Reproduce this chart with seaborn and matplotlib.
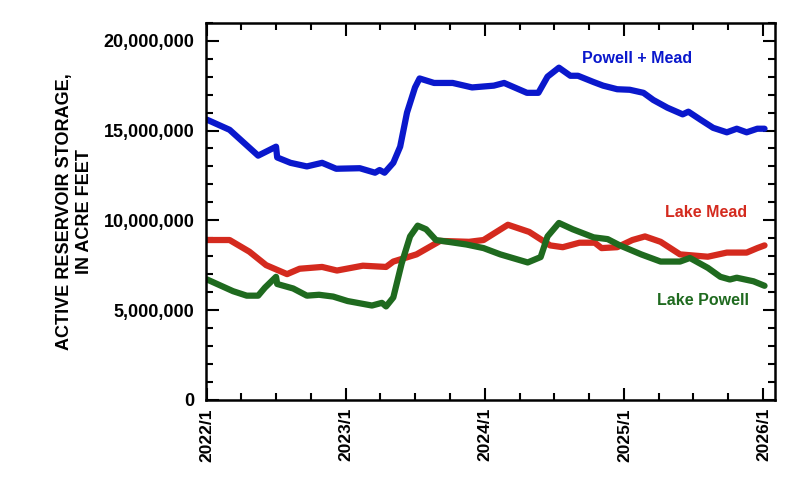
import matplotlib
matplotlib.use("Agg")
import matplotlib.pyplot as plt
import matplotlib.dates as mdates
import matplotlib.ticker as mticker
import numpy as np
import pandas as pd
import seaborn as sns

# ---- data (millions of acre-feet) ----
powell_dates = ["2022-01-01","2022-03-10","2022-04-15","2022-05-15","2022-06-02","2022-07-01","2022-07-04",
                "2022-08-15","2022-09-20","2022-10-22","2022-11-28","2023-01-05","2023-03-10","2023-04-05",
                "2023-04-16","2023-05-05","2023-05-27","2023-06-18","2023-07-08","2023-07-30","2023-08-25",
                "2023-11-13","2023-12-28","2024-02-10","2024-04-22","2024-05-26","2024-06-13","2024-07-13",
                "2024-08-18","2024-10-12","2024-11-18","2024-12-20","2025-02-14","2025-04-06","2025-05-27",
                "2025-06-22","2025-08-08","2025-09-10","2025-10-05","2025-10-23","2025-12-06","2026-01-04"]
powell_vals = [6.7,6.05,5.8,5.8,6.25,6.85,6.45,6.2,5.8,5.85,5.75,5.5,5.25,5.4,5.2,5.7,7.6,9.1,9.7,9.5,8.9,
               8.65,8.45,8.1,7.65,7.95,9.1,9.85,9.5,9.05,8.95,8.6,8.1,7.7,7.7,7.9,7.35,6.85,6.7,6.8,6.6,6.35]

mead_dates = ["2022-01-01","2022-03-01","2022-04-22","2022-06-05","2022-07-30","2022-09-01","2022-10-30",
              "2022-12-08","2023-02-14","2023-04-16","2023-05-05","2023-07-05","2023-09-05","2023-11-20",
              "2023-12-28","2024-03-01","2024-04-26","2024-06-20","2024-07-23","2024-09-05","2024-10-15",
              "2024-11-02","2024-12-13","2025-01-22","2025-02-24","2025-04-06","2025-05-27","2025-08-08",
              "2025-09-27","2025-11-18","2025-12-16","2026-01-04"]
mead_vals = [8.9,8.9,8.25,7.5,7.0,7.3,7.4,7.2,7.47,7.4,7.7,8.1,8.85,8.8,8.9,9.75,9.35,8.6,8.5,8.75,8.75,
             8.45,8.5,8.9,9.1,8.8,8.1,7.97,8.2,8.2,8.45,8.6]

total_dates = ["2022-01-01","2022-03-01","2022-05-15","2022-07-01","2022-07-04","2022-08-08","2022-09-20",
               "2022-10-30","2022-12-06","2023-02-06","2023-03-18","2023-03-30","2023-04-12","2023-05-05",
               "2023-05-23","2023-06-10","2023-07-01","2023-07-13","2023-08-20","2023-10-08","2023-11-28",
               "2024-01-24","2024-02-20","2024-04-20","2024-05-20","2024-06-13","2024-07-13","2024-08-12",
               "2024-09-01","2024-10-12","2024-11-06","2024-12-13","2025-01-15","2025-02-20","2025-03-18",
               "2025-04-24","2025-06-03","2025-06-18","2025-07-20","2025-08-22","2025-09-27","2025-10-23",
               "2025-11-18","2025-12-16","2026-01-04"]
total_vals = [15.6,15.04,13.6,14.1,13.5,13.2,13.0,13.2,12.87,12.9,12.65,12.8,12.65,13.2,14.1,16.0,17.4,17.9,
              17.65,17.65,17.4,17.5,17.65,17.1,17.1,18.0,18.5,18.05,18.05,17.7,17.5,17.3,17.27,17.1,16.7,
              16.27,15.9,16.05,15.6,15.15,14.9,15.1,14.9,15.1,15.1]

series_names = ["Powell + Mead", "Lake Mead", "Lake Powell"]
series_colors = ["#0a18cc", "#d42a1e", "#1f6a1f"]

frames = []
for name, d, v in [("Powell + Mead", total_dates, total_vals),
                   ("Lake Mead", mead_dates, mead_vals),
                   ("Lake Powell", powell_dates, powell_vals)]:
    frames.append(pd.DataFrame({"date": pd.to_datetime(d),
                                "value": np.array(v) * 1e6,
                                "series": name}))
df = pd.concat(frames, ignore_index=True)

sns.set_theme(style="white")
plt.rcParams["font.family"] = ["Liberation Sans", "DejaVu Sans"]
plt.rcParams["font.weight"] = "bold"
plt.rcParams["text.color"] = "black"
plt.rcParams["axes.labelcolor"] = "black"
plt.rcParams["xtick.color"] = "black"
plt.rcParams["ytick.color"] = "black"

fig = plt.figure(figsize=(8, 4.96), dpi=100)
ax = fig.add_axes([0.257, 0.194, 0.712, 0.760])

sns.lineplot(data=df, x="date", y="value", hue="series", hue_order=series_names,
             palette=dict(zip(series_names, series_colors)), estimator=None, sort=False,
             linewidth=4.5, legend=False, ax=ax)

ax.set_xlim(pd.Timestamp("2021-12-28"), pd.Timestamp("2026-02-01"))
ax.set_ylim(0, 21e6)

ax.xaxis.set_major_locator(mdates.YearLocator())
ax.xaxis.set_minor_locator(mdates.MonthLocator(bymonth=[4, 7, 10]))
ax.xaxis.set_major_formatter(mdates.DateFormatter("%Y/1"))
ax.yaxis.set_major_locator(mticker.MultipleLocator(5e6))
ax.yaxis.set_minor_locator(mticker.MultipleLocator(1e6))
ax.yaxis.set_major_formatter(mticker.FuncFormatter(lambda v, p: f"{int(v):,}"))

ax.tick_params(which="both", direction="in", top=True, right=True, bottom=True, left=True,
               color="black", width=1.5)
ax.tick_params(which="major", length=9)
ax.tick_params(which="minor", length=5)
ax.tick_params(axis="y", labelsize=13, pad=8, labelcolor="black")
ax.tick_params(axis="x", labelsize=12.5, rotation=90, pad=6, labelcolor="black")
for lab in ax.get_xticklabels() + ax.get_yticklabels():
    lab.set_fontweight("bold")

for s in ax.spines.values():
    s.set_visible(True)
    s.set_color("black")
    s.set_linewidth(1.8)

ax.set_xlabel("")
ax.set_ylabel("ACTIVE RESERVOIR STORAGE,\nIN ACRE FEET", fontsize=13, fontweight="bold",
              labelpad=8, linespacing=1.2, color="black")

ax.text(0.758, 0.905, "Powell + Mead", transform=ax.transAxes, color=series_colors[0],
        fontsize=11.5, fontweight="bold", ha="center", va="center")
ax.text(0.878, 0.498, "Lake Mead", transform=ax.transAxes, color=series_colors[1],
        fontsize=11.5, fontweight="bold", ha="center", va="center")
ax.text(0.873, 0.263, "Lake Powell", transform=ax.transAxes, color=series_colors[2],
        fontsize=11.5, fontweight="bold", ha="center", va="center")

fig.savefig("out.png", dpi=100)
